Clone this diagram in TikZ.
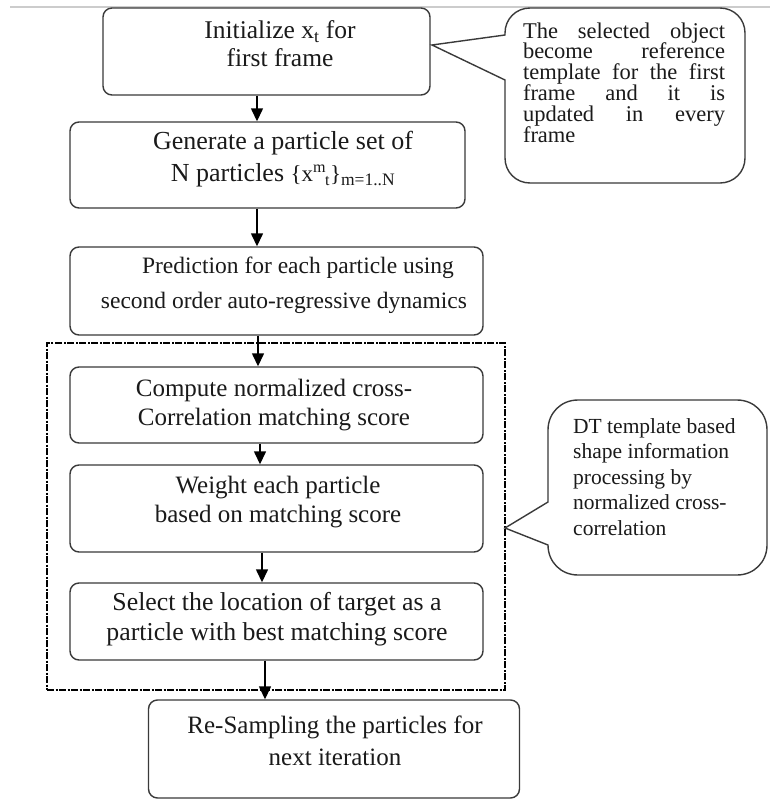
\documentclass[tikz,border=0pt]{standalone}
\usepackage{fontspec}
\setmainfont{Liberation Serif}
\usetikzlibrary{arrows.meta}
\definecolor{ln}{HTML}{3A3A3A}
\definecolor{tx}{HTML}{1A1A1A}
\newcommand{\jline}[1]{\leavevmode\hbox to 202pt{#1}}
\begin{document}
\begin{tikzpicture}[x=1pt,y=-1pt,
  box/.style={draw=ln, fill=white, line width=1.4pt, rounded corners=9pt, inner sep=0pt},
  lbl/.style={text=tx, align=center, inner sep=0pt},
  arr/.style={draw=black, line width=1.4pt, -{Triangle[width=12pt,length=13pt]}},
  dframe/.style={draw=black, line width=1.8pt, inner sep=0pt, dash pattern=on 7pt off 1.5pt on 2pt off 1.5pt},
  bubble/.style={draw=ln, fill=white, line width=1.4pt}]

\fill[white] (0,0) rectangle (770,800);
\useasboundingbox (0,0) rectangle (770,800);

% faint rule at the top
\draw[gray!40, line width=2pt] (10,7) -- (770,7);

% dashed group frame
\node[dframe, minimum width=458pt, minimum height=347pt] (fr) at (276,516.5) {};

% boxes
\node[box, minimum width=327pt, minimum height=87pt] (b1) at (266.5,51.5) {};
\node[box, minimum width=395pt, minimum height=86pt] (b2) at (267.5,165) {};
\node[box, minimum width=413pt, minimum height=88pt] (b3) at (276.5,291) {};
\node[box, minimum width=413pt, minimum height=76pt] (b4) at (276.5,405) {};
\node[box, minimum width=413pt, minimum height=87pt] (b5) at (276.5,508.5) {};
\node[box, minimum width=413pt, minimum height=77pt] (b6) at (276.5,621.5) {};
\node[box, minimum width=371pt, minimum height=98pt] (b7) at (334,749) {};

% texts
\node[lbl, font=\fontsize{25.5}{28}\selectfont] (t1) at (280,43.5) {Initialize x\textsubscript{t} for\\first frame};
\node[lbl, font=\fontsize{26}{32}\selectfont] (t2) at (283,159) {Generate a particle set of\\N particles {\fontsize{23}{24}\selectfont\{x\textsuperscript{m}\kern-0.05em\textsubscript{t}\}}{\fontsize{25}{24}\selectfont\textsubscript{m=1..N}}};
\node[lbl, font=\fontsize{23.5}{35}\selectfont] (t3) at (284,285.5) {\hspace*{28pt}Prediction for each particle using\\second order auto-regressive dynamics};
\node[lbl, font=\fontsize{25}{29}\selectfont] (t4) at (274,405.5) {Compute normalized cross-\\Correlation matching score};
\node[lbl, font=\fontsize{25}{29}\selectfont] (t5) at (278,502.5) {Weight each particle\\based on matching score};
\node[lbl, font=\fontsize{25.8}{30}\selectfont] (t6) at (277,619) {Select the location of target as a\\particle with best matching score};
\node[lbl, font=\fontsize{25}{32}\selectfont] (t7) at (335,741) {Re-Sampling the particles for\\next iteration};

% arrows
\coordinate (x1) at (257,0);
\coordinate (x2) at (257,0);
\coordinate (x3) at (258,0);
\coordinate (x4) at (260,0);
\coordinate (x5) at (262,0);
\coordinate (x6) at (265,0);
\draw[arr] (b1.south -| x1) -- (b2.north -| x1);
\draw[arr] (b2.south -| x2) -- (b3.north -| x2);
\draw[arr] (b3.south -| x3) -- (b4.north -| x3);
\draw[arr] (b4.south -| x4) -- (b5.north -| x4);
\draw[arr] (b5.south -| x5) -- (b6.north -| x5);
\draw[arr] (b6.south -| x6) -- (b7.north -| x6);

% callout 1
\coordinate (tip1) at (432,45);
\draw[bubble] (505,80) -- (tip1) -- (505,35) -- (505,33)
  .. controls (505,19) and (516,8) .. (530,8) -- (720,8)
  .. controls (734,8) and (745,19) .. (745,33) -- (745,158)
  .. controls (745,172) and (734,183) .. (720,183) -- (530,183)
  .. controls (516,183) and (505,172) .. (505,158) -- cycle;
\node[text=tx, inner sep=0pt, text width=202pt, align=left, font=\fontsize{22.5}{20.8}\selectfont] (c1) at (624,82.5) {%
\jline{The\hfill selected\hfill object}\\
\jline{become\hfill reference}\\
\jline{template\hfill for\hfill the\hfill first}\\
\jline{frame\hfill and\hfill it\hfill is}\\
\jline{updated\hfill in\hfill every}\\
frame};

% callout 2
\coordinate (tip2) at (505,528);
\draw[bubble] (548,545) -- (tip2) -- (548,502) -- (548,430)
  .. controls (548,413) and (561,400) .. (578,400) -- (737,400)
  .. controls (754,400) and (767,413) .. (767,430) -- (767,545)
  .. controls (767,562) and (754,575) .. (737,575) -- (578,575)
  .. controls (561,575) and (548,562) .. (548,545) -- cycle;
\node[text=tx, inner sep=0pt, align=left, anchor=west, font=\fontsize{21.5}{25.5}\selectfont] (c2) at (573,477) {DT template based\\shape information\\processing by\\normalized cross-\\correlation};
\end{tikzpicture}
\end{document}
